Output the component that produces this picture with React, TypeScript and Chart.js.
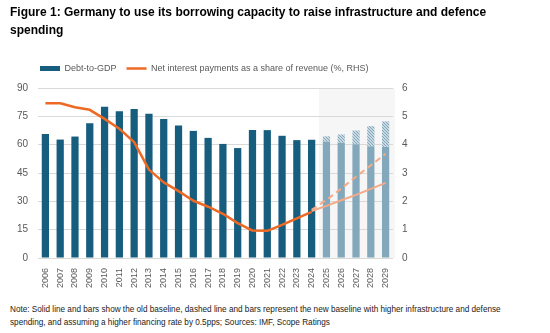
import React, { useEffect, useRef } from "react";
import { Chart, registerables } from "chart.js";

Chart.register(...registerables);

const years = [
  "2006", "2007", "2008", "2009", "2010", "2011", "2012", "2013", "2014", "2015", "2016", "2017",
  "2018", "2019", "2020", "2021", "2022", "2023", "2024", "2025", "2026", "2027", "2028", "2029",
];

// Debt-to-GDP, old baseline (% of GDP, LHS)
const debtOld = [
  65.7, 62.7, 64.3, 71.3, 80.1, 77.7, 78.9, 76.4, 73.6, 70.1, 67.3, 63.6,
  60.4, 58.2, 67.7, 67.7, 64.7, 62.4, 62.6, 61.7, 61.0, 60.2, 59.1, 58.8,
];
// Debt-to-GDP, new baseline (projection years only)
const debtNew = [
  null, null, null, null, null, null, null, null, null, null, null, null,
  null, null, null, null, null, null, null, 64.4, 65.4, 67.5, 69.8, 72.3,
];
// Net interest payments, % of revenue (RHS)
const interestHist = [
  5.46, 5.46, 5.32, 5.23, 4.91, 4.56, 4.09, 3.12, 2.67, 2.36, 2.02, 1.81,
  1.56, 1.23, 0.97, 0.96, 1.17, 1.40, 1.63, null, null, null, null, null,
];
const interestOld = [
  null, null, null, null, null, null, null, null, null, null, null, null,
  null, null, null, null, null, null, 1.66, 1.84, 2.04, 2.23, 2.44, 2.65,
];
const interestNew = [
  null, null, null, null, null, null, null, null, null, null, null, null,
  null, null, null, null, null, null, 1.70, 2.05, 2.45, 2.87, 3.27, 3.68,
];
const firstProjection = 19;

const DARK = "#175d7d";
const LIGHT = "#83a8bc";
const ORANGE = "#ee6a24";
const ORANGE_LIGHT = "#f4aa86";
const GRID = "#d9d9d9";
const TICK = "#595959";

function makeHatch(color: string) {
  const c = document.createElement("canvas");
  c.width = 3;
  c.height = 3;
  const g = c.getContext("2d")!;
  g.fillStyle = "#ffffff";
  g.fillRect(0, 0, 3, 3);
  g.strokeStyle = color;
  g.lineWidth = 1.3;
  g.beginPath();
  g.moveTo(-1, -1);
  g.lineTo(4, 4);
  g.moveTo(-1, 2);
  g.lineTo(1, 4);
  g.moveTo(2, -1);
  g.lineTo(4, 1);
  g.stroke();
  return g.createPattern(c, "repeat")!;
}

const shadePlugin = {
  id: "shadeProjection",
  beforeDraw(chart: any) {
    const { ctx, chartArea, scales } = chart;
    const x = scales.x;
    const left = (x.getPixelForValue(firstProjection - 1) + x.getPixelForValue(firstProjection)) / 2;
    ctx.save();
    ctx.fillStyle = "#f6f6f6";
    ctx.fillRect(left, chartArea.top, chartArea.right - left + 2, chartArea.bottom - chartArea.top);
    ctx.restore();
  },
};

const legendShift = {
  id: "legendShift",
  afterLayout(chart: any) {
    const l = chart.legend;
    if (!l) return;
    l.left += 22;
    l.right += 22;
    l.top -= 5;
    l.bottom -= 5;
  },
};

function ChartCanvas() {
  const ref = useRef<HTMLCanvasElement | null>(null);
  useEffect(() => {
    if (!ref.current) return;
    const hatch = makeHatch(LIGHT);
    const increment = debtNew.map((v, i) => (v == null ? null : +(v - debtOld[i]).toFixed(2)));
    const chart = new Chart(ref.current, {
      type: "bar",
      data: {
        labels: years,
        datasets: [
          {
            type: "line",
            label: "Net interest payments as a share of revenue (%, RHS)",
            data: interestHist,
            yAxisID: "y1",
            borderColor: ORANGE,
            borderWidth: 2.5,
            pointRadius: 0,
            tension: 0,
            borderJoinStyle: "round",
            order: 0,
          } as any,
          {
            type: "line",
            label: "Net interest, old baseline",
            data: interestOld,
            yAxisID: "y1",
            borderColor: ORANGE_LIGHT,
            borderWidth: 2,
            pointRadius: 0,
            tension: 0,
            order: 0,
          } as any,
          {
            type: "line",
            label: "Net interest, new baseline",
            data: interestNew,
            yAxisID: "y1",
            borderColor: ORANGE_LIGHT,
            borderWidth: 2,
            borderDash: [6, 4],
            pointRadius: 0,
            tension: 0,
            order: 0,
          } as any,
          {
            type: "bar",
            label: "Debt-to-GDP",
            data: debtOld,
            yAxisID: "y",
            backgroundColor: debtOld.map((_, i) => (i < firstProjection ? DARK : LIGHT)),
            borderWidth: 0,
            stack: "debt",
            categoryPercentage: 1,
            barPercentage: 0.49,
            order: 1,
          } as any,
          {
            type: "bar",
            label: "Debt-to-GDP, new baseline",
            data: increment,
            yAxisID: "y",
            backgroundColor: hatch,
            borderWidth: 0,
            stack: "debt",
            categoryPercentage: 1,
            barPercentage: 0.49,
            order: 1,
          } as any,
        ],
      },
      options: {
        animation: false,
        responsive: false,
        maintainAspectRatio: false,
        layout: { padding: { top: 59, left: 8, right: 132, bottom: 7 } },
        font: { family: "'Liberation Sans', Arial, sans-serif" },
        plugins: {
          tooltip: { enabled: false },
          legend: {
            display: true,
            position: "top",
            align: "start",
            labels: {
              usePointStyle: true,
              pointStyleWidth: 20,
              boxHeight: 5,
              padding: 10,
              color: TICK,
              font: { size: 9, family: "'Liberation Sans', Arial, sans-serif" },
              generateLabels: () => [
                {
                  text: "Debt-to-GDP",
                  fillStyle: DARK,
                  strokeStyle: DARK,
                  lineWidth: 0,
                  pointStyle: "rect",
                  hidden: false,
                  datasetIndex: 3,
                  fontColor: TICK,
                } as any,
                {
                  text: "Net interest payments as a share of revenue (%, RHS)",
                  fillStyle: ORANGE,
                  strokeStyle: ORANGE,
                  lineWidth: 2.5,
                  pointStyle: "line",
                  hidden: false,
                  datasetIndex: 0,
                  fontColor: TICK,
                } as any,
              ],
            },
          },
        },
        scales: {
          x: {
            stacked: true,
            offset: true,
            grid: { display: false, drawTicks: false },
            border: { display: false },
            ticks: {
              autoSkip: false,
              minRotation: 90,
              maxRotation: 90,
              padding: 10,
              color: TICK,
              font: { size: 9, family: "'Liberation Sans', Arial, sans-serif" },
            },
            afterFit: (s: any) => {
              s.height = 30;
            },
          },
          y: {
            stacked: true,
            position: "left",
            min: 0,
            max: 90,
            ticks: {
              stepSize: 15,
              padding: 10,
              color: TICK,
              font: { size: 10, family: "'Liberation Sans', Arial, sans-serif" },
            },
            grid: { color: GRID, lineWidth: 1, drawTicks: false },
            border: { display: false },
            afterFit: (s: any) => {
              s.width = 30;
            },
          },
          y1: {
            position: "right",
            min: 0,
            max: 6,
            ticks: {
              stepSize: 1,
              padding: 9,
              color: TICK,
              font: { size: 10, family: "'Liberation Sans', Arial, sans-serif" },
            },
            grid: { drawOnChartArea: false, drawTicks: false },
            border: { display: false },
            afterFit: (s: any) => {
              s.width = 25;
            },
          },
        },
      },
      plugins: [shadePlugin, legendShift],
    });
    return () => chart.destroy();
  }, []);
  return <canvas ref={ref} width={550} height={295} style={{ position: "absolute", left: 0, top: 0 }} />;
}

export default function App() {
  return (
    <div
      style={{
        position: "absolute",
        left: 0,
        top: 0,
        width: 550,
        height: 333,
        background: "#ffffff",
        overflow: "hidden",
        fontFamily: "'Liberation Sans', Arial, sans-serif",
      }}
    >
      <ChartCanvas />
      <div
        style={{
          position: "absolute",
          left: 10,
          top: 3,
          fontSize: 12,
          lineHeight: "18px",
          fontWeight: 700,
          color: "#000000",
          whiteSpace: "nowrap",
        }}
      >
        Figure 1: Germany to use its borrowing capacity to raise infrastructure and defence
        <br />
        spending
      </div>
      <div
        style={{
          position: "absolute",
          left: 10,
          top: 303,
          fontSize: 8.2,
          lineHeight: "13px",
          color: "#1a1a1a",
          whiteSpace: "nowrap",
        }}
      >
        Note: Solid line and bars show the old baseline, dashed line and bars represent the new baseline with higher infrastructure and defense
        <br />
        spending, and assuming a higher financing rate by 0.5pps; Sources: IMF, Scope Ratings
      </div>
    </div>
  );
}
